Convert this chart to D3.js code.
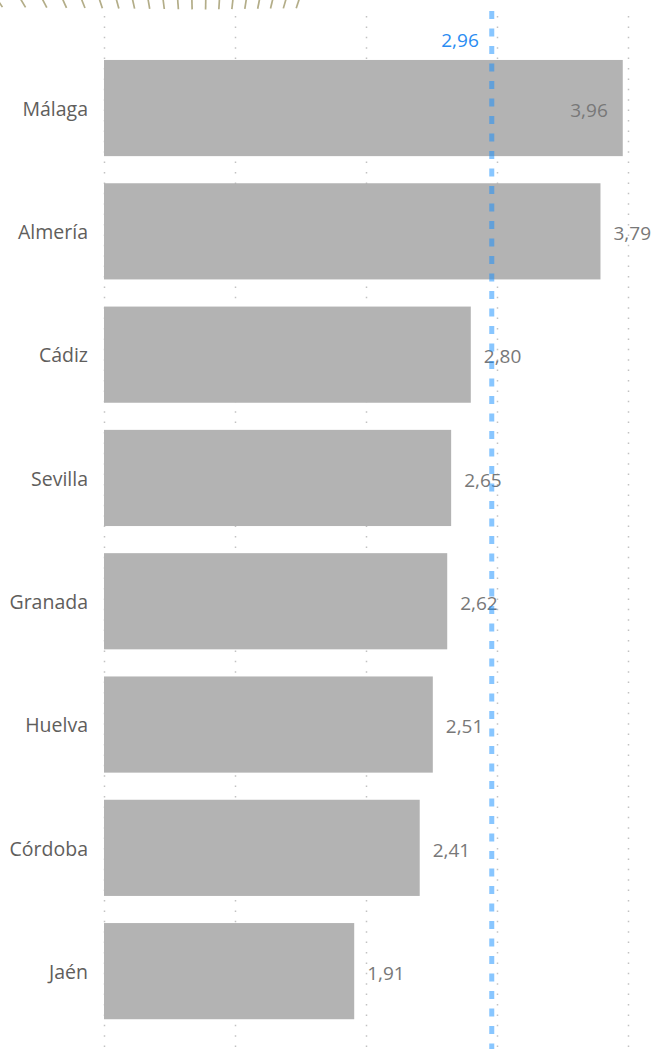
<!DOCTYPE html>
<html>
<head>
<meta charset="utf-8">
<script src="https://cdn.jsdelivr.net/npm/d3@7"></script>
<style>
  html, body { margin: 0; padding: 0; background: #ffffff; }
  svg { display: block; font-family: "Open Sans", "Segoe UI", sans-serif; }
</style>
</head>
<body>
<svg id="chart" width="654" height="1049"></svg>
<script>
// Provinces and their values
const provinces = ["Málaga", "Almería", "Cádiz", "Sevilla", "Granada", "Huelva", "Córdoba", "Jaén"];
const values = [3.96, 3.79, 2.80, 2.65, 2.62, 2.51, 2.41, 1.91];
// Reference (average) line
const referenceValue = 2.96;
// Vertical gridline positions on the value axis
const gridTicks = [0, 1, 2, 3, 4];

const W = 654, H = 1049;
const svg = d3.select("#chart");
const fmt = v => d3.format(".2f")(v).replace(".", ",");

const x = d3.scaleLinear().domain([0, 4]).range([104, 628]);
const y = d3.scaleBand().domain(provinces).range([46.4, 1032.8])
  .paddingInner(0.22).paddingOuter(0.11);

// Decorative fan of tick marks cut off by the top edge
const deco = svg.append("g");
const cx = 200, cy = 300;
d3.range(20).forEach(i => {
  const deg = -34 + 3.225 * i - 0.025 * i * i;
  const t = Math.tan(deg * Math.PI / 180);
  const yTop = -1, yBot = 9.5 - 0.07 * Math.abs(deg);
  deco.append("line")
    .attr("x1", cx + t * (cy - yTop)).attr("y1", yTop)
    .attr("x2", cx + t * (cy - yBot)).attr("y2", yBot)
    .attr("stroke", "#b3ad88").attr("stroke-width", 1.7);
});

// Dotted vertical gridlines
svg.append("g").selectAll("line").data(gridTicks).join("line")
  .attr("x1", d => x(d) + 0.5).attr("x2", d => x(d) + 0.5)
  .attr("y1", 16).attr("y2", H)
  .attr("stroke", "#c2c2c2").attr("stroke-width", 1.5)
  .attr("stroke-dasharray", "1.5,8.9");

// Bars
svg.append("g").selectAll("rect").data(provinces).join("rect")
  .attr("x", x(0))
  .attr("y", d => y(d))
  .attr("width", (d, i) => x(values[i]) - x(0))
  .attr("height", y.bandwidth())
  .attr("fill", "#b3b3b3");

// Category labels
svg.append("g").selectAll("text").data(provinces).join("text")
  .attr("x", x(0) - 16)
  .attr("y", d => y(d) + y.bandwidth() / 2)
  .attr("dy", "0.4em")
  .attr("text-anchor", "end")
  .attr("font-size", 19.5)
  .attr("fill", "#5f5e5c")
  .text(d => d);

// Value labels: outside the bar end, or inside when there is no room
const valueLabels = svg.append("g");
provinces.forEach((p, i) => {
  const end = x(values[i]);
  const t = valueLabels.append("text")
    .attr("y", y(p) + y.bandwidth() / 2)
    .attr("dy", "0.46em")
    .attr("font-size", 19)
    .attr("fill", "#787878")
    .text(fmt(values[i]));
  const w = t.node().getComputedTextLength();
  if (end + 13 + w > W) {
    t.attr("x", end - 15).attr("text-anchor", "end");
  } else {
    t.attr("x", end + 13).attr("text-anchor", "start");
  }
});

// Reference line
svg.append("line")
  .attr("x1", x(referenceValue)).attr("x2", x(referenceValue))
  .attr("y1", 11).attr("y2", H)
  .attr("stroke", "#118DFF").attr("stroke-opacity", 0.5)
  .attr("stroke-width", 5)
  .attr("stroke-dasharray", "8,9.5");

svg.append("text")
  .attr("x", x(referenceValue) - 13)
  .attr("y", 40)
  .attr("dy", "0.38em")
  .attr("text-anchor", "end")
  .attr("font-size", 19)
  .attr("fill", "#2a8cf2")
  .text(fmt(referenceValue));
</script>
</body>
</html>
